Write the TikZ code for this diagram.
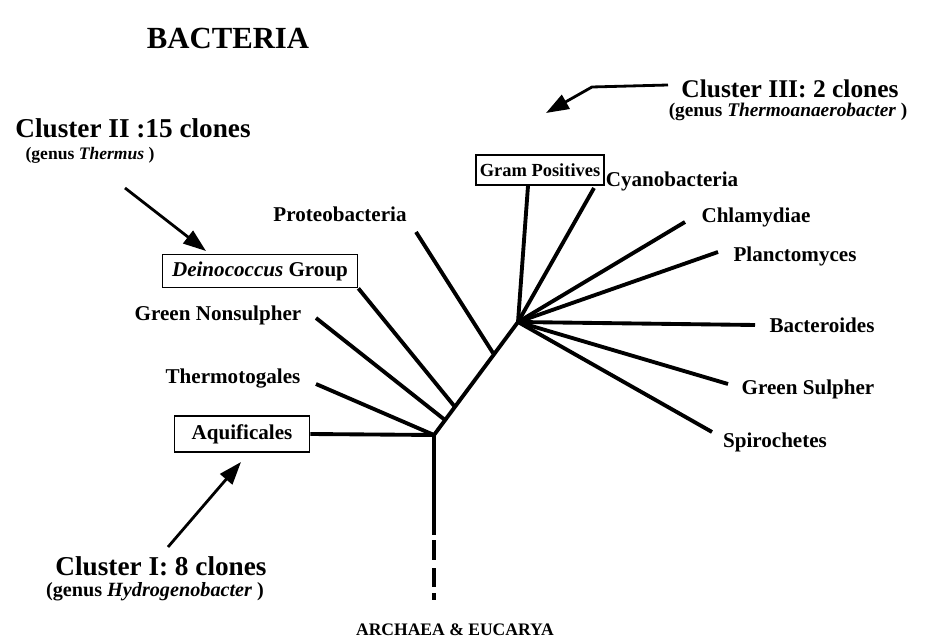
\documentclass[tikz,border=0pt]{standalone}
\usepackage{fontspec}
\setmainfont{Liberation Serif}
\usetikzlibrary{arrows.meta}

\begin{document}
\begin{tikzpicture}[x=0.02cm, y=-0.02cm,
    branch/.style={line width=2.2pt},
    taxon/.style={font=\bfseries\fontsize{12}{14}\selectfont, inner sep=1pt},
    taxbox/.style={draw, line width=1pt, font=\bfseries\fontsize{12}{14}\selectfont,
                   minimum height=0.66cm, inner sep=2pt},
    pointer/.style={line width=1.6pt, -{Triangle[length=13pt, width=9pt]}},
    cluster/.style={font=\bfseries\fontsize{15.5}{18}\selectfont, inner sep=0pt},
    genus/.style={font=\bfseries\fontsize{11.5}{13}\selectfont, inner sep=0pt}]
    \useasboundingbox (0, 0) rectangle (949, 641);

    % Title
    \node[font=\bfseries\fontsize{17.5}{20}\selectfont] (title) at (228, 38) {BACTERIA};

    % Junctions
    \coordinate (root) at (434, 435);
    \coordinate (jNonsul) at (445, 420);
    \coordinate (jDeino) at (455, 407);
    \coordinate (jProteo) at (493, 353);
    \coordinate (top) at (518, 322);

    % Boxed groups
    \node[taxbox, minimum width=2.7cm, minimum height=0.72cm] (aquif) at (242, 434) {Aquificales};
    \node[taxbox, minimum width=3.9cm] (deino) at (260, 271) {\textit{Deinococcus} Group};
    \node[taxbox, font=\bfseries\fontsize{10.5}{12}\selectfont, minimum width=2.56cm,
          minimum height=0.6cm] (gram) at (540, 170) {Gram Positives};

    % Leaf labels
    \node[taxon] (proteo) at (340, 214) {Proteobacteria};
    \node[taxon] (nonsul) at (218, 315) {Green Nonsulpher};
    \node[taxon] (thermo) at (233, 379) {Thermotogales};
    \node[taxon] (cyano) at (672, 181) {Cyanobacteria};
    \node[taxon] (chlam) at (756, 217) {Chlamydiae};
    \node[taxon] (planc) at (795, 256) {Planctomyces};
    \node[taxon] (bacter) at (822, 325) {Bacteroides};
    \node[taxon] (gsul) at (808, 389) {Green Sulpher};
    \node[taxon] (spiro) at (775, 442) {Spirochetes};
    \node[taxon, font=\bfseries\fontsize{10}{12}\selectfont] (arch) at (455, 630) {ARCHAEA \& EUCARYA};

    % Leaf ends
    \coordinate (eProteo) at (416, 232);
    \coordinate (eNonsul) at (316, 318);
    \coordinate (eThermo) at (316, 384);
    \coordinate (eCyano) at (594, 188);
    \coordinate (eChlam) at (685, 222);
    \coordinate (ePlanc) at (718, 252);
    \coordinate (eBacter) at (755, 325);
    \coordinate (eGsul) at (728, 384);
    \coordinate (eSpiro) at (712, 432);
    \coordinate (eArch) at (434, 535);

    % Tree
    \draw[branch] (root) -- (top);
    \draw[branch] (aquif.east) -- (root);
    \draw[branch] (eThermo) -- (root);
    \draw[branch] (eNonsul) -- (jNonsul);
    \draw[branch] (deino.south east) -- (jDeino);
    \draw[branch] (eProteo) -- (jProteo);
    \draw[branch] (gram.south) ++(-12, 0) -- (top);
    \foreach \leaf in {eCyano, eChlam, ePlanc, eBacter, eGsul, eSpiro}
        \draw[branch] (top) -- (\leaf);
    \draw[branch] (root) -- (eArch);
    \draw[branch] (434, 540) -- (434, 560);
    \draw[branch] (434, 568) -- (434, 587);
    \draw[branch] (434, 593) -- (434, 600);

    % Cluster I
    \node[cluster] (c1) at (161, 566) {Cluster I: 8 clones};
    \node[genus] (g1) at (155, 592) {(genus \textit{Hydrogenobacter} )};
    \coordinate (s1) at (168, 547);
    \draw[pointer] (s1) -- (241, 462);

    % Cluster II
    \node[cluster] (c2) at (133, 128) {Cluster II :15 clones};
    \node[genus, font=\bfseries\fontsize{10}{12}\selectfont] (g2) at (90, 155) {(genus \textit{Thermus} )};
    \coordinate (s2) at (125, 188);
    \draw[pointer] (s2) -- (206, 251);

    % Cluster III
    \node[cluster, font=\bfseries\fontsize{14.5}{17}\selectfont] (c3) at (790, 89) {Cluster III: 2 clones};
    \node[genus, font=\bfseries\fontsize{11}{13}\selectfont] (g3) at (788, 112) {(genus \textit{Thermoanaerobacter} )};
    \coordinate (s3) at (668, 85);
    \draw[pointer] (s3) -- (592, 87) -- (546, 113);
\end{tikzpicture}
\end{document}
